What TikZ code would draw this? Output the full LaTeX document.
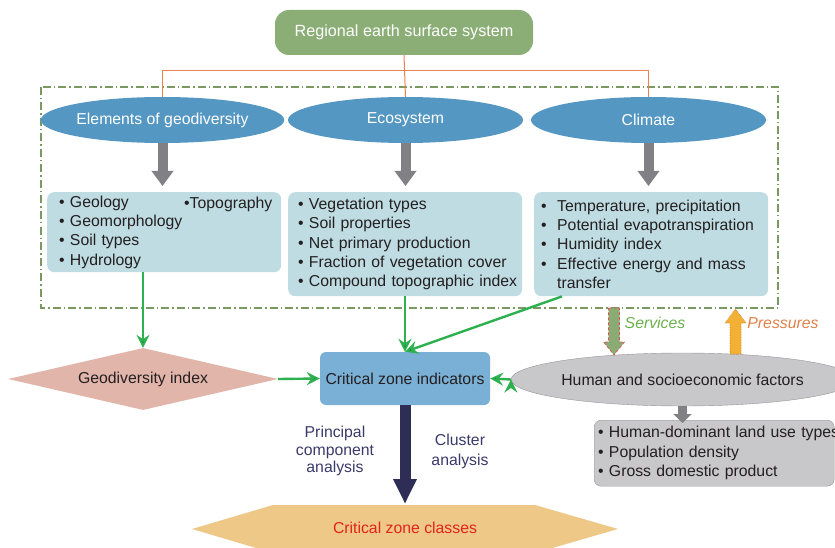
\documentclass[tikz,border=0pt]{standalone}
\usepackage{fontspec}
\setmainfont{Liberation Sans}
\usetikzlibrary{arrows.meta,shapes.geometric}

\definecolor{topgreen}{RGB}{139,174,118}
\definecolor{linkorange}{RGB}{232,131,79}
\definecolor{dashgreen}{RGB}{122,153,96}
\definecolor{ovalblue}{RGB}{84,151,194}
\definecolor{arrowgrey}{RGB}{128,128,133}
\definecolor{listblue}{RGB}{191,220,226}
\definecolor{txtdark}{RGB}{35,31,32}
\definecolor{arrowgreen}{RGB}{45,176,79}
\definecolor{gdipink}{RGB}{226,181,171}
\definecolor{czblue}{RGB}{123,176,214}
\definecolor{navy}{RGB}{46,45,86}
\definecolor{navytxt}{RGB}{58,58,106}
\definecolor{clsorange}{RGB}{238,200,135}
\definecolor{clsred}{RGB}{226,35,26}
\definecolor{humangrey}{RGB}{200,200,202}
\definecolor{humanedge}{RGB}{150,150,152}
\definecolor{svcgreen}{RGB}{138,172,116}
\definecolor{svcred}{RGB}{224,80,80}
\definecolor{svctxt}{RGB}{108,176,76}
\definecolor{prsorange}{RGB}{242,177,52}
\definecolor{prsedge}{RGB}{208,128,48}
\definecolor{prstxt}{RGB}{224,128,74}

\begin{document}
\begin{tikzpicture}[x=1pt,y=-1pt,
  every node/.style={font=\fontsize{15.8}{19.3}\selectfont, text=txtdark},
  oval/.style={ellipse, fill=ovalblue, text=white, minimum width=235pt, minimum height=46pt, inner sep=0pt},
  listbox/.style={anchor=north west, fill=listblue, rounded corners=7pt, align=left, inner ysep=0pt},
  greyarrow/.style={draw=arrowgrey, line width=10pt, -{Triangle[width=21pt,length=15pt]}, shorten >=6pt},
  greenarrow/.style={draw=arrowgreen, line width=2.4pt, -{Stealth[length=13pt,width=13pt,inset=4.5pt]}},
  orangeline/.style={draw=linkorange, line width=1pt},
  flowlabel/.style={font=\fontsize{15.8}{19.3}\selectfont\itshape}]

\clip (0,0) rectangle (835,548);

\draw[dashgreen, line width=1.2pt, dash pattern=on 8pt off 3pt on 1.5pt off 3pt] (41,87) rectangle (778,308);

\node[fill=topgreen, text=white, rounded corners=14pt, minimum width=258pt, minimum height=45pt, font=\fontsize{16.2}{19.3}\selectfont] (Top) at (404,32.5) {Regional earth surface system};

\node[oval] (Geo) at (162.5,120) {Elements of geodiversity};
\node[oval] (Eco) at (405.5,120) {Ecosystem};
\node[oval] (Clim) at (648.5,120) {Climate};

\draw[orangeline] (Top.south) -- (Eco.north);
\draw[orangeline] (Geo.north) -- ++(0,-26) -| (Clim.north);

\node[listbox, minimum width=234pt, minimum height=80pt, text width=210pt, inner xsep=12pt] (GeoList) at (47,192)
  {\textbullet\ Geology\\ \textbullet\ Geomorphology\\ \textbullet\ Soil types\\ \textbullet\ Hydrology};
\node[anchor=west, inner sep=0pt] (Topo) at (184,204) {\textbullet Topography};
\node[listbox, minimum width=234pt, minimum height=104pt, text width=214pt, inner xsep=10pt] (EcoList) at (288,192)
  {\textbullet\ Vegetation types\\ \textbullet\ Soil properties\\ \textbullet\ Net primary production\\
   \mbox{\textbullet\ Fraction of vegetation cover}\\ \mbox{\textbullet\ Compound topographic index}};
\node[listbox, minimum width=234pt, minimum height=104pt, text width=220pt, inner xsep=7pt] (ClimList) at (534,192)
  {\makebox[16pt][l]{\textbullet}Temperature, precipitation\\ \mbox{\makebox[16pt][l]{\textbullet}Potential evapotranspiration}\\
   \makebox[16pt][l]{\textbullet}Humidity index\\ \mbox{\makebox[16pt][l]{\textbullet}Effective energy and mass}\\ \hspace*{16pt}transfer};

\draw[greyarrow] (Geo.south) -- (Geo.south |- GeoList.north);
\draw[greyarrow] (Eco.south) -- (Eco.south |- EcoList.north);
\draw[greyarrow] (Clim.south) -- (Clim.south |- ClimList.north);

\node[diamond, aspect=4.35, fill=gdipink, minimum width=270pt, minimum height=62pt, inner sep=0pt] (Gdi) at (143,379) {Geodiversity index};
\node[fill=czblue, rounded corners=6pt, minimum width=170pt, minimum height=53pt] (CZ) at (405,378.5) {Critical zone indicators};
\node[ellipse, fill=humangrey, draw=humanedge, minimum width=305pt, minimum height=53pt, inner sep=0pt] (Hum) at (682.5,379.5) {Human and socioeconomic factors};
\node[listbox, fill=humangrey, draw=humanedge, minimum width=240pt, minimum height=66pt, text width=232pt, inner xsep=4pt] (HumList) at (594,420)
  {\mbox{\textbullet\ Human-dominant land use types}\\ \textbullet\ Population density\\ \textbullet\ Gross domestic product};
\draw[greyarrow, line width=9pt, -{Triangle[width=18pt,length=9pt]}, shorten >=0pt] (Hum.south) -- ([yshift=-3pt]Hum.south |- HumList.north);

\fill[clsorange] (192,529) -- (273,505) -- (535,505) -- (618,529) -- (535,553) -- (273,553) -- cycle;
\node[text=clsred] (Cls) at (405,528) {Critical zone classes};
\coordinate (ClsTop) at (405,504);

\path[greenarrow]
  (GeoList.south -| Gdi.north) edge (Gdi.north)
  (CZ.north |- EcoList.south) edge (CZ.north)
  ([xshift=28pt]ClimList.south west) edge (CZ.north)
  (Gdi.east) edge (CZ.west)
  (Hum.west) edge (CZ.east);

\draw[navy, line width=11pt, -{Triangle[width=22pt,length=25pt]}] (CZ.south) -- (ClsTop);
\node[text=navytxt, align=center, font=\fontsize{15.8}{17.5}\selectfont] (PCA) at (335,451) {Principal\\component\\analysis};
\node[text=navytxt, align=center, font=\fontsize{15.8}{20}\selectfont] (Clu) at (460,451) {Cluster\\analysis};

\filldraw[fill=svcgreen, draw=svcred, densely dashed, line width=0.6pt] (608.5,308) -- (619.5,308) -- (619.5,342) -- (624.5,342) -- (614,355) -- (603.5,342) -- (608.5,342) -- cycle;
\filldraw[fill=prsorange, draw=prsedge, densely dotted, line width=0.6pt] (730,354) -- (741,354) -- (741,323) -- (746,323) -- (735.5,309) -- (725,323) -- (730,323) -- cycle;
\node[flowlabel, text=svctxt] (Svc) at (655,323) {Services};
\node[flowlabel, text=prstxt] (Prs) at (783,323) {Pressures};
\end{tikzpicture}
\end{document}
